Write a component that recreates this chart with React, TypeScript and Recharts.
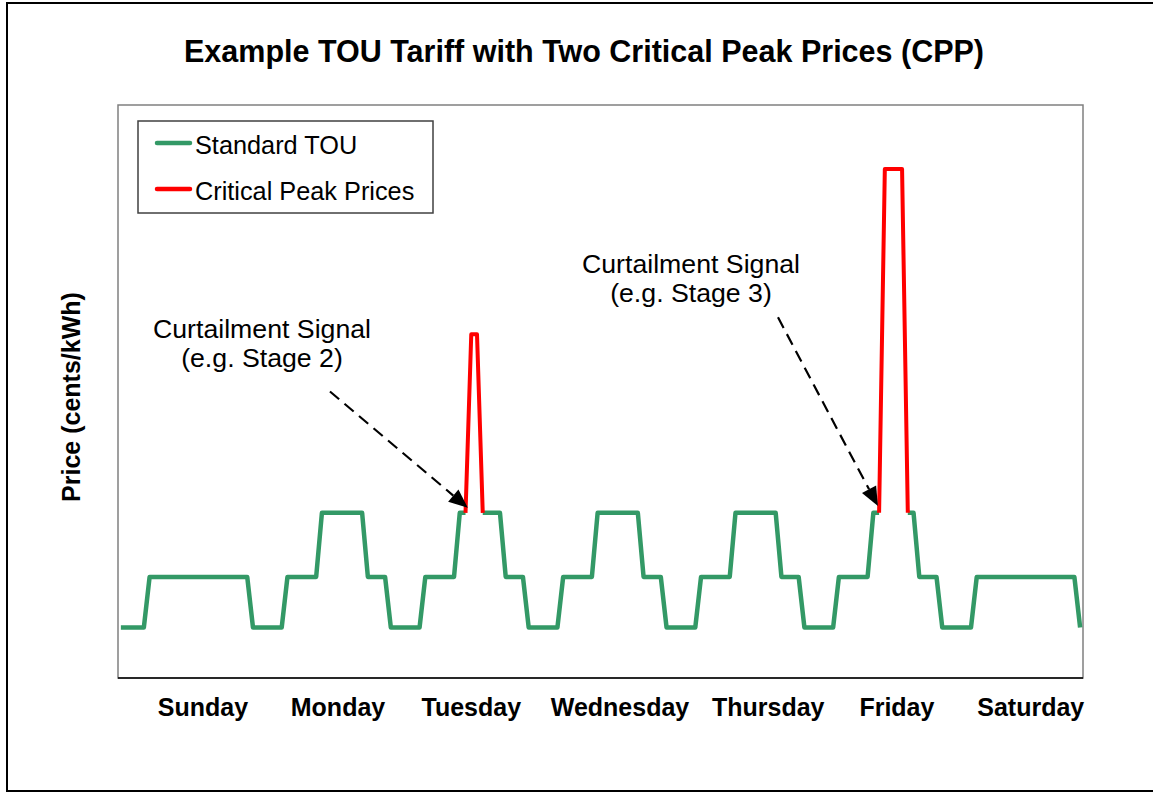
import React from "react";
import {
  LineChart,
  Line,
  XAxis,
  YAxis,
  ReferenceArea,
  ReferenceLine,
} from "recharts";

// hourly TOU price profiles (cents/kWh), hour 0..23
const weekdayTou = [
  3, 3, 3, 3, 3, 6, 6, 6, 6, 6, 6, 9.8, 9.8, 9.8, 9.8, 9.8, 9.8, 9.8, 9.8, 6,
  6, 6, 6, 3,
];
const weekendTou = [
  3, 3, 3, 3, 3, 6, 6, 6, 6, 6, 6, 6, 6, 6, 6, 6, 6, 6, 6, 6, 6, 6, 6, 3,
];

const dayNames = [
  "Sunday",
  "Monday",
  "Tuesday",
  "Wednesday",
  "Thursday",
  "Friday",
  "Saturday",
];
const dayProfiles = [
  weekendTou,
  weekdayTou,
  weekdayTou,
  weekdayTou,
  weekdayTou,
  weekdayTou,
  weekendTou,
];
// where the day names sit on the hour axis
const dayLabelHours = [14.3, 37.8, 61.0, 86.9, 112.7, 135.1, 158.4];

// critical peak events (hour of week -> price)
const cppHours = [60, 61, 62, 63, 132, 133, 134, 135, 136, 137];
const cppPrices = [9.8, 20.4, 20.4, 9.8, 9.8, 30.2, 30.2, 30.2, 30.2, 9.8];

const series = [
  { key: "tou", name: "Standard TOU", color: "#339966", width: 4.5 },
  { key: "cpp", name: "Critical Peak Prices", color: "#FF0000", width: 4 },
];

const data = dayProfiles.flatMap((profile, d) =>
  profile.map((tou, h) => {
    const hour = d * 24 + h;
    const i = cppHours.indexOf(hour);
    const cpp = i >= 0 ? cppPrices[i] : null;
    return { hour, tou: cpp !== null && cpp > tou ? null : tou, cpp };
  })
);

const FONT = "'Liberation Sans', Arial, sans-serif";

const Arrow = (props: any) => {
  const { x1, y1, x2, y2 } = props;
  const dx = x2 - x1;
  const dy = y2 - y1;
  const len = Math.sqrt(dx * dx + dy * dy);
  const ux = dx / len;
  const uy = dy / len;
  const head = 19;
  const half = 8;
  const bx = x2 - ux * head;
  const by = y2 - uy * head;
  return (
    <g>
      <line
        x1={x1}
        y1={y1}
        x2={bx}
        y2={by}
        stroke="#000"
        strokeWidth={2.2}
        strokeDasharray="12 7"
      />
      <polygon
        points={`${x2},${y2} ${bx - uy * half},${by + ux * half} ${bx + uy * half},${by - ux * half}`}
        fill="#000"
      />
    </g>
  );
};

const DayTick = (props: any) => {
  const { x, payload } = props;
  const idx = dayLabelHours.indexOf(payload.value);
  return (
    <text
      x={x}
      y={716}
      textAnchor="middle"
      fontWeight="bold"
      fontSize={25}
      fill="#000"
    >
      {dayNames[idx]}
    </text>
  );
};

export default function App() {
  return (
    <div
      style={{
        position: "absolute",
        left: 0,
        top: 0,
        width: 1153,
        height: 793,
        overflow: "hidden",
        background: "#fff",
        fontFamily: FONT,
      }}
    >
      <div
        style={{
          position: "absolute",
          left: 6,
          top: 2,
          width: 1170,
          height: 786,
          border: "2px solid #000",
        }}
      />
      <div style={{ position: "absolute", left: 0, top: 0 }}>
        <LineChart
          width={1153}
          height={793}
          data={data}
          margin={{ top: 105, right: 70, bottom: 85, left: 118 }}
        >
          <ReferenceArea
            x1={-0.5}
            x2={167.5}
            y1={0}
            y2={34}
            fill="none"
            stroke="#808080"
            strokeWidth={1.5}
          />
          <XAxis
            dataKey="hour"
            type="number"
            domain={[-0.5, 167.5]}
            ticks={dayLabelHours}
            tick={<DayTick />}
            tickLine={false}
            axisLine={{ stroke: "#000", strokeWidth: 1.5 }}
            height={30}
            interval={0}
          />
          <YAxis
            type="number"
            domain={[0, 34]}
            width={0}
            tick={false}
            tickLine={false}
            axisLine={{ stroke: "#000", strokeWidth: 1.5 }}
          />
          {series.map((s) => (
            <Line
              key={s.key}
              dataKey={s.key}
              name={s.name}
              type="linear"
              stroke={s.color}
              strokeWidth={s.width}
              strokeLinejoin="round"
              dot={false}
              activeDot={false}
              connectNulls={false}
              isAnimationActive={false}
            />
          ))}
          <ReferenceLine
            segment={[
              { x: 36.4, y: 17.0 },
              { x: 60.4, y: 10.1 },
            ]}
            shape={Arrow}
          />
          <ReferenceLine
            segment={[
              { x: 114.4, y: 21.4 },
              { x: 131.8, y: 10.2 },
            ]}
            shape={Arrow}
          />
          <text
            x={584}
            y={62}
            textAnchor="middle"
            fontWeight="bold"
            fontSize={30.5}
            fill="#000"
          >
            Example TOU Tariff with Two Critical Peak Prices (CPP)
          </text>
          <text
            x={80}
            y={397}
            transform="rotate(-90, 80, 397)"
            textAnchor="middle"
            fontWeight="bold"
            fontSize={25}
            fill="#000"
          >
            Price (cents/kWh)
          </text>
          <text x={262} y={338} textAnchor="middle" fontSize={26.7} fill="#000">
            <tspan x={262}>Curtailment Signal</tspan>
            <tspan x={262} dy={29}>
              (e.g. Stage 2)
            </tspan>
          </text>
          <text x={691} y={273} textAnchor="middle" fontSize={26.7} fill="#000">
            <tspan x={691}>Curtailment Signal</tspan>
            <tspan x={691} dy={29}>
              (e.g. Stage 3)
            </tspan>
          </text>
          <g>
            <rect
              x={138}
              y={121}
              width={295}
              height={92}
              fill="#fff"
              stroke="#404040"
              strokeWidth={1.5}
            />
            {series.map((s, i) => (
              <g key={s.key}>
                <line
                  x1={157}
                  x2={190}
                  y1={143 + i * 46}
                  y2={143 + i * 46}
                  stroke={s.color}
                  strokeWidth={4.5}
                  strokeLinecap="round"
                />
                <text x={195} y={154 + i * 46} fontSize={25.3} fill="#000">
                  {s.name}
                </text>
              </g>
            ))}
          </g>
        </LineChart>
      </div>
    </div>
  );
}
